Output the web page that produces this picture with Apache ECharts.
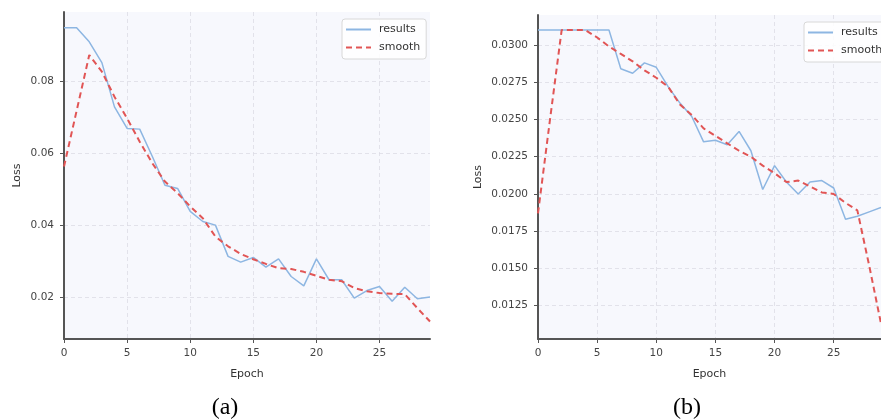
<!DOCTYPE html>
<html>
<head>
<meta charset="utf-8">
<script src="https://cdn.jsdelivr.net/npm/echarts@6/dist/echarts.min.js"></script>
<style>
html,body{margin:0;padding:0;background:#fff;}
#chart{width:881px;height:419px;}
</style>
</head>
<body>
<div id="chart"></div>
<script>
// ---- data ----
const epochs = [0,1,2,3,4,5,6,7,8,9,10,11,12,13,14,15,16,17,18,19,20,21,22,23,24,25,26,27,28,29];

const resultsA = [0.0949,0.0949,0.0910,0.0852,0.0729,0.0669,0.0667,0.0591,0.0511,0.0502,0.0438,0.0410,0.0400,0.0313,0.0297,0.0310,0.0283,0.0306,0.0257,0.0231,0.0306,0.0248,0.0248,0.0197,0.0218,0.0229,0.0188,0.0227,0.0195,0.0200];
const smoothA  = [0.0563,0.0718,0.0873,0.0827,0.0757,0.0697,0.0632,0.0572,0.0521,0.0489,0.0452,0.0419,0.0368,0.0341,0.0320,0.0305,0.0292,0.0280,0.0278,0.0270,0.0259,0.0248,0.0244,0.0225,0.0216,0.0211,0.0209,0.0208,0.0169,0.0132];

const resultsB = [0.0310,0.0310,0.0310,0.0310,0.0310,0.0310,0.0310,0.0284,0.0281,0.0288,0.0285,0.0272,0.0261,0.0252,0.0235,0.0236,0.0233,0.0242,0.0229,0.0203,0.0219,0.0208,0.0200,0.0208,0.0209,0.0204,0.0183,0.0185,0.0188,0.0191];
const smoothB  = [0.0187,0.0249,0.0310,0.0310,0.0310,0.0305,0.0299,0.0294,0.0289,0.0283,0.0278,0.0272,0.0260,0.0253,0.0244,0.0239,0.0234,0.0229,0.0225,0.0219,0.0214,0.0208,0.0209,0.0205,0.0201,0.0200,0.0194,0.0189,0.0152,0.0113];

const xTicks  = [0,5,10,15,20,25];
const yTicksA = [0.02,0.04,0.06,0.08];
const yTicksB = [0.0125,0.0150,0.0175,0.0200,0.0225,0.0250,0.0275,0.0300];
const seriesNames = ['results','smooth'];
const panelLabels = ['(a)','(b)'];
const axisNames = {x:'Epoch', y:'Loss'};

// ---- styles ----
const FONT = 'DejaVu Sans';
const axisColor = '#555';
const blue = '#8db6e2';
const red = '#e15555';

function pairs(xs, ys){ return xs.map((x,i)=>[x, ys[i]]); }

function xAxis(gridIndex){
  return {
    type:'value', gridIndex, min:0, max:29,
    name: axisNames.x, nameLocation:'middle', nameGap:30,
    nameTextStyle:{fontFamily:FONT,fontSize:11,color:'#333'},
    axisLine:{show:true,onZero:false,lineStyle:{color:axisColor,width:2}},
    axisTick:{show:true,length:4,inside:false,customValues:xTicks,lineStyle:{color:axisColor,width:1}},
    axisLabel:{customValues:xTicks,fontFamily:FONT,fontSize:10.5,color:'#444',margin:9},
    splitLine:{show:true,lineStyle:{color:'#dcdce4',type:[4,3],width:0.8}}
  };
}
function yAxis(gridIndex, min, max, ticks, digits, gap){
  return {
    type:'value', gridIndex, min, max,
    name: axisNames.y, nameLocation:'middle', nameGap:gap,
    nameTextStyle:{fontFamily:FONT,fontSize:11,color:'#333'},
    axisLine:{show:true,onZero:false,lineStyle:{color:axisColor,width:2}},
    axisTick:{show:true,length:4,inside:false,customValues:ticks,lineStyle:{color:axisColor,width:1}},
    axisLabel:{customValues:ticks,fontFamily:FONT,fontSize:10.5,color:'#444',margin:10,
      formatter:v=>Number(v).toFixed(digits)},
    splitLine:{show:true,lineStyle:{color:'#dcdce4',type:[4,3],width:0.8}}
  };
}
function legend(left, top){
  return {
    orient:'vertical', left, top,
    itemWidth:25, itemHeight:12, itemGap:7,
    padding:[5,6,6,3],
    borderColor:'#d8d8d8', borderWidth:1, borderRadius:3,
    backgroundColor:'rgba(255,255,255,0.85)',
    itemStyle:{opacity:0},
    textStyle:{fontFamily:FONT,fontSize:11,color:'#333',padding:[0,0,0,3]},
    data: seriesNames
  };
}

const chart = echarts.init(document.getElementById('chart'), null, {renderer:'canvas'});
const option = {
  animation:false,
  backgroundColor:'#fff',
  grid:[
    {left:64, top:12, right:451, bottom:80, show:true, backgroundColor:'#f7f8fd', borderWidth:0},
    {left:538, top:15, right:-8, bottom:80, show:true, backgroundColor:'#f7f8fd', borderWidth:0}
  ],
  xAxis:[xAxis(0), xAxis(1)],
  yAxis:[
    yAxis(0, 0.00832, 0.09928, yTicksA, 2, 41),
    yAxis(1, 0.010267, 0.03201, yTicksB, 4, 54)
  ],
  legend:[legend(342,19), legend(804,22)],
  graphic:[
    {type:'text', x:225, y:408, silent:true,
     style:{text:panelLabels[0], font:'24px "Liberation Serif"', fill:'#000', align:'center', verticalAlign:'middle'}},
    {type:'text', x:687, y:408, silent:true,
     style:{text:panelLabels[1], font:'24px "Liberation Serif"', fill:'#000', align:'center', verticalAlign:'middle'}}
  ],
  series:[
    {name:seriesNames[0], type:'line', xAxisIndex:0, yAxisIndex:0, data:pairs(epochs,resultsA),
     symbol:'none', lineStyle:{color:blue,width:1.5}, itemStyle:{color:blue}, z:2},
    {name:seriesNames[1], type:'line', xAxisIndex:0, yAxisIndex:0, data:pairs(epochs,smoothA),
     symbol:'none', lineStyle:{color:red,width:2,type:[6,4]}, itemStyle:{color:red}, z:3},
    {name:seriesNames[0], type:'line', xAxisIndex:1, yAxisIndex:1, data:pairs(epochs,resultsB),
     symbol:'none', lineStyle:{color:blue,width:1.5}, itemStyle:{color:blue}, z:2},
    {name:seriesNames[1], type:'line', xAxisIndex:1, yAxisIndex:1, data:pairs(epochs,smoothB),
     symbol:'none', lineStyle:{color:red,width:2,type:[6,4]}, itemStyle:{color:red}, z:3}
  ]
};
chart.setOption(option);
</script>
</body>
</html>
